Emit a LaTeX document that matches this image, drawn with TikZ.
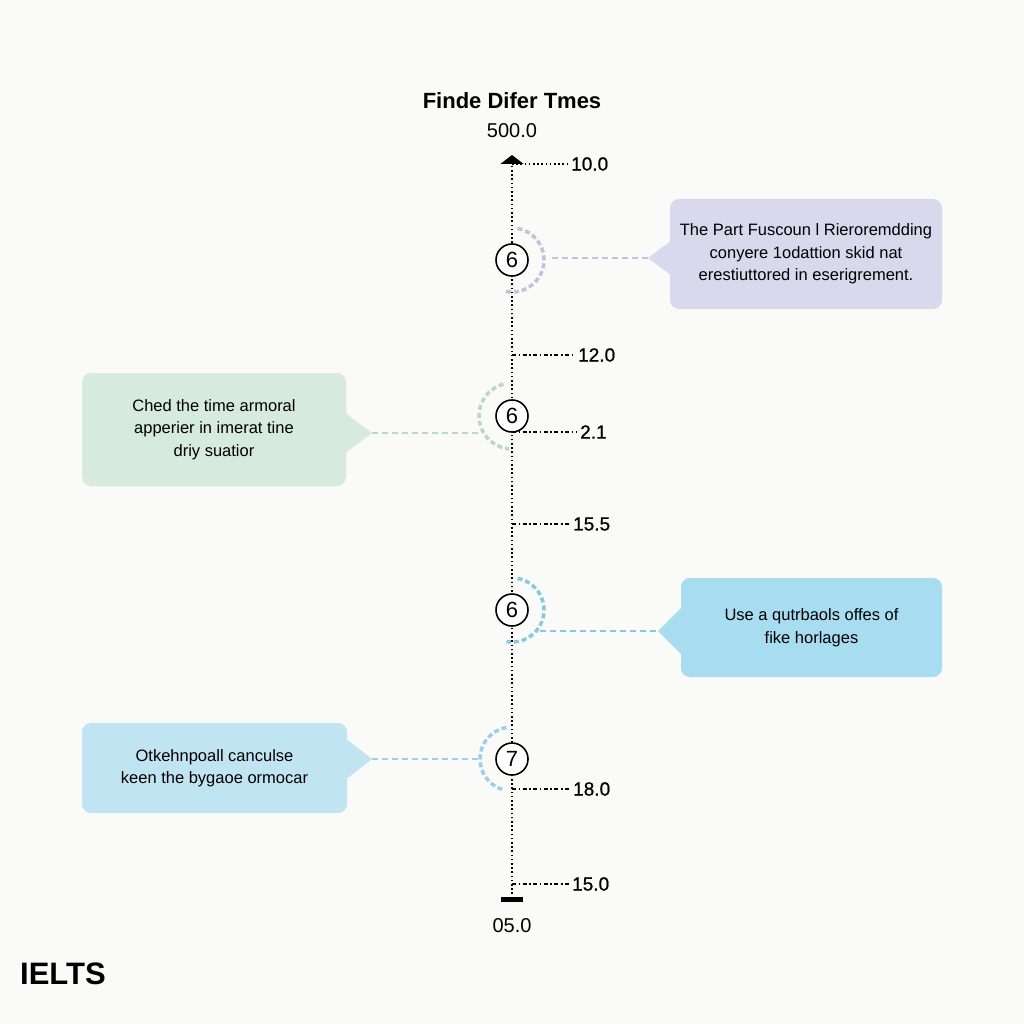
\documentclass[tikz,border=0pt]{standalone}
\usepackage{fontspec}
\setmainfont{Liberation Sans}
\usetikzlibrary{arrows.meta}
\usetikzlibrary{calc}
\definecolor{bgcol}{RGB}{250,250,248}
\definecolor{purpbox}{RGB}{218,216,236}
\definecolor{purpline}{RGB}{196,192,222}
\definecolor{greenbox}{RGB}{214,234,221}
\definecolor{greenline}{RGB}{186,216,200}
\definecolor{bluebox}{RGB}{168,221,241}
\definecolor{blueline}{RGB}{134,202,222}
\definecolor{palebox}{RGB}{192,228,242}
\definecolor{paleline}{RGB}{156,208,232}
\tikzset{num/.style={circle,draw,minimum size=32pt,inner sep=0pt,line width=1.6pt,fill=white,font=\fontsize{22}{24}\selectfont},
  axisline/.style={line width=1.8pt,dash pattern=on 1.6pt off 2.6pt},
  dotline/.style={line width=1.4pt,dash pattern=on 1.6pt off 2.6pt},
  dashdot/.style={line width=1.4pt,dash pattern=on 4pt off 2.5pt on 1.6pt off 2.5pt},
  ticklab/.style={anchor=west,inner sep=0pt,font=\fontsize{19}{20}\selectfont\addfontfeatures{FakeBold=0.8}},
  box/.style={rounded corners=9pt,inner sep=0pt,align=center,font=\fontsize{16.5}{22.5}\selectfont},
  link/.style={line width=2pt,dash pattern=on 6pt off 4pt},
  ring/.style={line width=3.5pt,dash pattern=on 5pt off 3pt}
}
\begin{document}
\begin{tikzpicture}[x=1pt,y=-1pt]
\useasboundingbox[fill=bgcol] (0,0) rectangle (1024,1024);

% title and end values
\node[font=\bfseries\fontsize{22}{24}\selectfont] (title) at (512,101) {Finde Difer Tmes};
\node[font=\fontsize{20}{22}\selectfont] (topval) at (512,131) {500.0};
\node[font=\fontsize{20}{22}\selectfont] (botval) at (512,926) {05.0};
\node[anchor=west,inner sep=0pt,font=\bfseries\fontsize{31}{32}\selectfont] (logo) at (20,974) {IELTS};

% axis
\coordinate (top) at (512,155);
\coordinate (bot) at (512,902);
\draw[axisline,{Bar[width=22pt,line width=5pt]}-{Triangle[width=23pt,length=9pt]}] (bot) -- (top);

% ticks
\foreach \n/\y/\xl/\lab/\sty in {1/164/571/10.0/dotline,2/355/578/12.0/dashdot,3/432/580/2.1/dashdot,
  4/524/573/15.5/dashdot,5/789/573/18.0/dashdot,6/884/572/15.0/dashdot}{
  \coordinate (a\n) at (512,\y);
  \node[ticklab] (t\n) at (\xl,\y) {\lab};
  \draw[\sty] (a\n) -- ([xshift=-3pt]t\n.west);
}

% boxes
\node[box,fill=purpbox,minimum width=272pt,minimum height=110pt] (b1) at (806,254)
  {The Part Fuscoun l Rieroremdding\\conyere 1odattion skid nat\\erestiuttored in eserigrement.};
\fill[purpbox] (672,240) -- (648,258) coordinate (p1) -- (672,276) -- cycle;
\node[box,fill=greenbox,minimum width=264pt,minimum height=113pt] (b2) at (214,429.5)
  {Ched the time armoral\\apperier in imerat tine\\driy suatior};
\fill[greenbox] (344,412) -- (372,433) coordinate (p2) -- (344,454) -- cycle;
\node[box,fill=bluebox,minimum width=261pt,minimum height=99pt] (b3) at (811.5,627.5)
  {Use a qutrbaols offes of\\fike horlages};
\fill[bluebox] (683,606) -- (658,631) coordinate (p3) -- (683,656) -- cycle;
\node[box,fill=palebox,minimum width=265pt,minimum height=90pt] (b4) at (214.5,768)
  {Otkehnpoall canculse\\keen the bygaoe ormocar};
\fill[palebox] (345,738) -- (372,759) coordinate (p4) -- (345,780) -- cycle;

% markers with rings
\node[num] (m1) at (512,260) {6};
\node[num] (m2) at (512,416) {6};
\node[num] (m3) at (512,610) {6};
\node[num] (m4) at (512,759) {7};
\draw[ring,purpline] ($(m1)+(80:32pt)$) arc[start angle=80,end angle=-105,radius=32pt];
\draw[ring,greenline] ($(m2)+(105:33pt)$) arc[start angle=105,end angle=265,radius=33pt];
\draw[ring,blueline] ($(m3)+(80:32pt)$) arc[start angle=80,end angle=-100,radius=32pt];
\draw[ring,paleline] ($(m4)+(100:32pt)$) arc[start angle=100,end angle=255,radius=32pt];

% links
\coordinate (r1) at (552,258);
\coordinate (r2) at (478,433);
\coordinate (r3) at (540,631);
\coordinate (r4) at (478,759);
\draw[link,purpline] (r1) -- (p1);
\draw[link,greenline] (r2) -- (p2);
\draw[link,blueline] (r3) -- (p3);
\draw[link,paleline] (r4) -- (p4);
\end{tikzpicture}
\end{document}
